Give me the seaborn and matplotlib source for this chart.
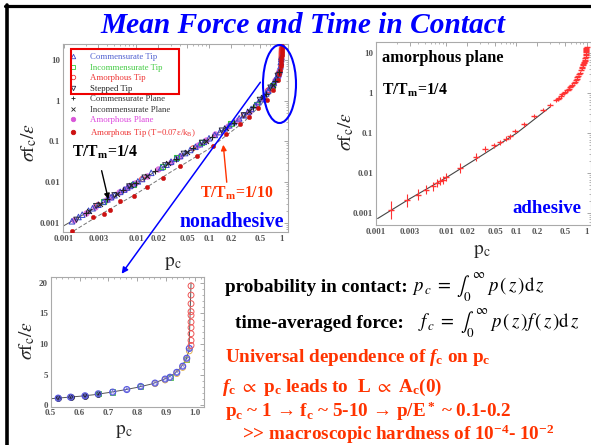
import matplotlib
matplotlib.use("Agg")
import numpy as np
import matplotlib.pyplot as plt
import seaborn as sns
from matplotlib.patches import Rectangle, Ellipse, FancyArrowPatch
from matplotlib.lines import Line2D
from matplotlib.ticker import LogLocator, NullFormatter, FixedLocator

# ---------------- data: log-log collapse, T/Tm = 1/4 ----------------
comm_tip_p = [0.0013, 0.0016, 0.0018, 0.0022, 0.0025, 0.003, 0.0035, 0.004, 0.0045, 0.005,
              0.006, 0.0068, 0.0075, 0.0082, 0.009, 0.0105, 0.012, 0.016, 0.022, 0.026,
              0.03, 0.035, 0.04, 0.047, 0.055, 0.065, 0.075, 0.085, 0.1, 0.12, 0.14, 0.165,
              0.19, 0.22, 0.26, 0.3, 0.34, 0.38, 0.43, 0.48, 0.52, 0.56, 0.61, 0.65, 0.7,
              0.74, 0.78, 0.82, 0.85, 0.88, 0.9, 0.92, 0.94, 0.96, 0.975, 0.985, 0.99]
comm_tip_f = [0.0011, 0.0014, 0.0016, 0.002, 0.0023, 0.0028, 0.0033, 0.0038, 0.0043, 0.0048,
              0.0058, 0.0066, 0.0074, 0.0081, 0.009, 0.0105, 0.012, 0.017, 0.023, 0.027,
              0.032, 0.038, 0.044, 0.052, 0.062, 0.074, 0.086, 0.098, 0.12, 0.145, 0.17, 0.21,
              0.25, 0.30, 0.37, 0.44, 0.53, 0.63, 0.77, 0.93, 1.1, 1.25, 1.5, 1.75, 2.1,
              2.4, 2.8, 3.3, 3.7, 4.2, 4.6, 5.1, 5.6, 7.0, 9.0, 10.5, 12.0]
incomm_tip_p = [0.0035, 0.009, 0.023, 0.036, 0.08, 0.2, 0.45, 0.75]
incomm_tip_f = [0.0033, 0.009, 0.025, 0.040, 0.093, 0.27, 0.83, 2.4]
amorph_tip_p = [0.003, 0.012, 0.06, 0.3, 0.65, 0.9, 0.97, 0.985, 0.99, 0.993, 0.995,
                0.996, 0.997, 0.998, 0.999, 0.9995, 1.0]
amorph_tip_f = [0.0028, 0.012, 0.068, 0.44, 1.8, 4.6, 7.5, 9.8, 10.8, 11.8, 12.8,
                13.8, 14.8, 15.8, 16.8, 18.0, 19.5]
stepped_tip_p = [0.0015, 0.0028, 0.005, 0.008, 0.013, 0.025, 0.045, 0.08, 0.15, 0.3, 0.5, 0.7, 0.88]
stepped_tip_f = [0.0012, 0.0026, 0.0048, 0.0079, 0.013, 0.026, 0.05, 0.093, 0.185, 0.44, 1.05, 2.1, 4.1]
comm_plane_p = [0.002, 0.004, 0.0065, 0.01, 0.018, 0.035, 0.06, 0.11, 0.22, 0.4, 0.6, 0.8, 0.92]
comm_plane_f = [0.0018, 0.0038, 0.0063, 0.0098, 0.019, 0.038, 0.068, 0.13, 0.29, 0.7, 1.45, 3.0, 5.0]
incomm_plane_p = [0.0022, 0.0032, 0.0055, 0.0085, 0.014, 0.027, 0.05, 0.09, 0.17, 0.35, 0.55, 0.75]
incomm_plane_f = [0.002, 0.0029, 0.0052, 0.0085, 0.014, 0.029, 0.056, 0.105, 0.22, 0.55, 1.25, 2.5]
amorph_plane_p = [0.0014, 0.002, 0.0027, 0.0038, 0.0045, 0.0058, 0.007, 0.008, 0.0095, 0.014,
                  0.02, 0.03, 0.04, 0.07, 0.09, 0.12, 0.18, 0.25, 0.35, 0.45, 0.55, 0.65,
                  0.75, 0.82, 0.88, 0.93]
amorph_plane_f = [0.0012, 0.0018, 0.0025, 0.0036, 0.0044, 0.0057, 0.0069, 0.0079, 0.0095, 0.014,
                  0.021, 0.032, 0.045, 0.082, 0.11, 0.15, 0.24, 0.34, 0.54, 0.83, 1.2, 1.8,
                  2.5, 3.2, 4.1, 5.3]

# T/Tm = 1/10 (amorphous tip, T = 0.07 eps/kB)
cold_tip_p = [0.0013, 0.0025, 0.0036, 0.0044, 0.006, 0.0092, 0.014, 0.0236, 0.04, 0.068,
              0.115, 0.17, 0.27, 0.35, 0.47, 0.62, 0.76, 0.88, 0.93, 0.95, 0.965, 0.975,
              0.983, 0.99, 0.994, 0.997, 0.999, 1.0]
cold_tip_f = [0.00063, 0.0014, 0.0017, 0.0021, 0.0035, 0.0047, 0.0075, 0.013, 0.025, 0.044,
              0.077, 0.15, 0.27, 0.41, 0.66, 1.06, 1.85, 3.25, 4.5, 5.7, 7.0, 8.0,
              9.5, 11.0, 13.0, 15.5, 18.5, 22.0]

fit_warm_p = [0.001, 0.003, 0.01, 0.03, 0.1, 0.3, 0.5, 0.7, 0.85, 0.93, 0.97, 0.99]
fit_warm_f = [0.00085, 0.0026, 0.0095, 0.031, 0.115, 0.42, 1.05, 2.1, 3.5, 5.1, 7.0, 9.8]
fit_cold_p = [0.001, 0.003, 0.01, 0.03, 0.1, 0.3, 0.5, 0.7, 0.85, 0.93, 0.97, 0.99]
fit_cold_f = [0.00045, 0.0015, 0.0052, 0.018, 0.066, 0.3, 0.75, 1.5, 2.8, 4.6, 7.0, 10.0]

# ---------------- data: adhesive amorphous plane ----------------
adh_p = [0.00164, 0.00276, 0.0039, 0.0052, 0.0064, 0.0074, 0.0082, 0.009, 0.0100, 0.0157,
         0.0264, 0.036, 0.048, 0.059, 0.071, 0.082, 0.096, 0.13, 0.18, 0.24,
         0.30, 0.37, 0.39, 0.41, 0.43, 0.45, 0.47, 0.50, 0.52, 0.54,
         0.56, 0.58, 0.61, 0.63, 0.66, 0.68, 0.70, 0.72, 0.74, 0.76,
         0.78, 0.80, 0.83, 0.85, 0.87, 0.885, 0.90, 0.915, 0.93, 0.94,
         0.95, 0.96, 0.97, 0.975, 0.98, 0.985, 0.99, 0.993, 0.995, 0.997, 1.0]
adh_f = [0.00119, 0.0021, 0.0029, 0.0039, 0.0047, 0.0057, 0.0064, 0.0070, 0.0081, 0.0138,
         0.0255, 0.040, 0.050, 0.060, 0.074, 0.084, 0.114, 0.168, 0.27, 0.38,
         0.50, 0.67, 0.72, 0.78, 0.86, 0.94, 1.0, 1.1, 1.18, 1.24,
         1.31, 1.42, 1.55, 1.65, 1.8, 1.95, 2.1, 2.3, 2.5, 2.7,
         3.0, 3.3, 3.8, 4.2, 4.6, 5.0, 5.4, 5.8, 6.1, 6.5,
         7.0, 7.6, 8.2, 8.9, 9.8, 10.6, 11.5, 12.2, 13.0, 13.7, 14.4]
adh_err_dex = [0.22, 0.17, 0.14, 0.12, 0.12, 0.10, 0.10, 0.10, 0.10, 0.12,
               0.10, 0.07, 0.06, 0.06, 0.06, 0.06, 0.06, 0.06, 0.05, 0.05,
               0.05, 0.05, 0.04, 0.04, 0.04, 0.04, 0.04, 0.04, 0.04, 0.04,
               0.03, 0.03, 0.03, 0.03, 0.03, 0.03, 0.03, 0.03, 0.03, 0.03,
               0.03, 0.03, 0.03, 0.03, 0.03, 0.03, 0.03, 0.03, 0.03, 0.03,
               0.03, 0.03, 0.03, 0.03, 0.03, 0.03, 0.03, 0.03, 0.03, 0.03, 0.03]
adh_fit_p = [0.00105, 0.003, 0.01, 0.03, 0.1, 0.3]
adh_fit_f = [0.00074, 0.0023, 0.0078, 0.026, 0.10, 0.45]

# ---------------- data: linear close-up near full contact ----------------
lin_p = [0.526, 0.569, 0.619, 0.665, 0.715, 0.764, 0.812, 0.862, 0.897, 0.914, 0.9375, 0.958, 0.972, 0.981]
lin_f = [1.2, 1.36, 1.58, 1.9, 2.18, 2.6, 3.1, 3.65, 4.3, 4.6, 5.4, 6.4, 7.7, 9.3]
lin_dark_p = [0.526, 0.569, 0.619, 0.665]
lin_dark_f = [1.2, 1.36, 1.58, 1.9]
lin_green_p = [0.665, 0.715, 0.812, 0.914, 0.972]
lin_green_f = [1.95, 2.2, 3.1, 4.5, 7.5]
lin_orange_p = [0.862, 0.897, 0.9375, 0.958, 0.972, 0.981]
lin_orange_f = [3.55, 4.15, 5.2, 6.2, 7.5, 8.9]
lin_red_p = [0.987, 0.987, 0.987, 0.987, 0.987, 0.987, 0.987, 0.987, 0.987, 0.987]
lin_red_f = [9.8, 10.6, 11.7, 12.7, 13.6, 14.7, 15.3, 16.6, 18.0, 19.5]
lin_fit_p = [0.5, 0.55, 0.6, 0.65, 0.7, 0.75, 0.8, 0.85, 0.9, 0.93, 0.95, 0.97, 0.98, 0.987]
lin_fit_f = [1.1, 1.3, 1.5, 1.75, 2.1, 2.5, 2.95, 3.5, 4.4, 5.2, 6.1, 7.5, 9.0, 20.0]

log_ticks = [0.001, 0.003, 0.01, 0.02, 0.05, 0.1, 0.2, 0.5, 1]
log_tick_labels = ["0.001", "0.003", "0.01", "0.02", "0.05", "0.1", "0.2", "0.5", "1"]
ylog_ticks = [0.001, 0.01, 0.1, 1, 10]
ylog_tick_labels = ["0.001", "0.01", "0.1", "1", "10"]
lin_xticks = [0.5, 0.6, 0.7, 0.8, 0.9, 1.0]
lin_xtick_labels = ["0.5", "0.6", "0.7", "0.8", "0.9", "1.0"]
lin_yticks = [0, 5, 10, 15, 20]
lin_ytick_labels = ["0", "5", "10", "15", "20"]

# ---------------- style ----------------
sns.set_style("white")
plt.rcParams["font.family"] = ["Liberation Serif", "DejaVu Serif"]
plt.rcParams["mathtext.fontset"] = "custom"
plt.rcParams["mathtext.rm"] = "Liberation Serif:bold"
plt.rcParams["mathtext.it"] = "Liberation Serif:italic:bold"
plt.rcParams["mathtext.bf"] = "Liberation Serif:bold"
plt.rcParams["mathtext.fallback"] = "stix"

BLUE = "#0000ff"
RED = "#ff3300"
W, H = 591, 445
fig = plt.figure(figsize=(W / 100, H / 100), dpi=100)
fig.patch.set_facecolor("white")


def box(l, t, r, b):
    return [l / W, 1 - b / H, (r - l) / W, (b - t) / H]


def P(x, y):
    return (x / W, 1 - y / H)


def frame(ax):
    for s in ax.spines.values():
        s.set_color("#aaaaaa")
        s.set_linewidth(0.8)
    ax.tick_params(which="both", direction="in", top=True, right=True,
                   colors="#999999", labelcolor="#555555", labelsize=6.5, pad=2)
    ax.tick_params(which="major", length=3, width=0.6)
    ax.tick_params(which="minor", length=1.5, width=0.5)
    for lbl in ax.get_xticklabels() + ax.get_yticklabels():
        lbl.set_fontweight("bold")


def log_axes(ax, xlim, ylim):
    ax.set_xscale("log")
    ax.set_yscale("log")
    ax.set_xlim(*xlim)
    ax.set_ylim(*ylim)
    ax.xaxis.set_major_locator(FixedLocator(log_ticks))
    ax.set_xticklabels(log_tick_labels)
    ax.yaxis.set_major_locator(FixedLocator(ylog_ticks))
    ax.set_yticklabels(ylog_tick_labels)
    ax.xaxis.set_minor_locator(LogLocator(base=10, subs=np.arange(2, 10)))
    ax.yaxis.set_minor_locator(LogLocator(base=10, subs=np.arange(2, 10)))
    ax.xaxis.set_minor_formatter(NullFormatter())
    ax.yaxis.set_minor_formatter(NullFormatter())


def open_pts(ax, x, y, marker, color, s, lw=0.6, z=3, alpha=1.0):
    sns.scatterplot(x=x, y=y, ax=ax, marker=marker, s=s, facecolor="none",
                    edgecolor=color, linewidth=lw, zorder=z, alpha=alpha, legend=False)


def solid_pts(ax, x, y, marker, color, s, lw=0.6, z=3, alpha=1.0):
    sns.scatterplot(x=x, y=y, ax=ax, marker=marker, s=s, color=color,
                    edgecolor=color, linewidth=lw, zorder=z, alpha=alpha, legend=False)


# ---------------- top-left: nonadhesive collapse ----------------
ax1 = fig.add_axes(box(63, 44, 288, 232))
log_axes(ax1, (0.00098, 1.22), (0.0006, 24.7))
sns.lineplot(x=fit_warm_p, y=fit_warm_f, ax=ax1, color="#555555", lw=0.7, sort=False, zorder=1)
sns.lineplot(x=fit_cold_p, y=fit_cold_f, ax=ax1, color="#777777", lw=0.7, sort=False,
             zorder=1, linestyle=(0, (4, 2)))

C_COMM, C_INC, C_AMT, C_STEP = "#3a45c8", "#33cc33", "#ee3333", "#2a2a44"
C_APL, C_COLD = "#d855d8", "#cc1111"
solid_pts(ax1, amorph_plane_p, amorph_plane_f, "o", C_APL, 16, z=3, alpha=0.75)
open_pts(ax1, amorph_tip_p, amorph_tip_f, "o", C_AMT, 13, z=3)
open_pts(ax1, incomm_tip_p, incomm_tip_f, "s", C_INC, 13, lw=0.8, z=3)
open_pts(ax1, comm_tip_p, comm_tip_f, "^", C_COMM, 16, lw=0.7, z=4)
open_pts(ax1, stepped_tip_p, stepped_tip_f, "v", C_STEP, 14, lw=0.7, z=4)
sns.scatterplot(x=comm_plane_p, y=comm_plane_f, ax=ax1, marker="+", s=16, color="#222222",
                linewidth=0.8, zorder=5, legend=False)
sns.scatterplot(x=incomm_plane_p, y=incomm_plane_f, ax=ax1, marker="x", s=12, color="#222222",
                linewidth=0.8, zorder=5, legend=False)
solid_pts(ax1, cold_tip_p, cold_tip_f, "o", C_COLD, 10, lw=0.3, z=4)
log_axes(ax1, (0.00098, 1.22), (0.0006, 24.7))
frame(ax1)

legend_items = [
    ("Commensurate Tip", "^", C_COMM, False, "#5060d0"),
    ("Incommensurate Tip", "s", C_INC, False, "#44cc44"),
    ("Amorphous Tip", "o", C_AMT, False, "#ee3333"),
    ("Stepped Tip", "v", C_STEP, False, "#222222"),
    ("Commensurate Plane", "+", "#222222", True, "#333333"),
    ("Incommensurate Plane", "x", "#222222", True, "#333333"),
    ("Amorphous Plane", "o", C_APL, True, "#dd44dd"),
    (r"Amorphous Tip (T=0.07ε/k$_\mathregular{B}$)", "o", C_COLD, True, "#ee3333"),
]
handles = []
for label, mk, col, filled, _ in legend_items:
    handles.append(Line2D([], [], ls="none", marker=mk, ms=3.2, mew=0.6, mec=col,
                          mfc=col if filled else "none", label=label))
leg = ax1.legend(handles=handles, loc="upper left", bbox_to_anchor=(0.029, 0.951),
                 frameon=False, fontsize=6.3, handlelength=0.8, handletextpad=1.5,
                 labelspacing=0.27, borderpad=0, borderaxespad=0)
for txt, item in zip(leg.get_texts(), legend_items):
    txt.set_color(item[4])

ax1.set_xlabel("")
ax1.set_ylabel("")

# ---------------- top-right: adhesive amorphous plane ----------------
ax2 = fig.add_axes(box(376, 42, 590.5, 225))
log_axes(ax2, (0.000995, 1.14), (0.00051, 19.2))
sns.lineplot(x=adh_fit_p, y=adh_fit_f, ax=ax2, color="#444444", lw=0.8, sort=False, zorder=1)
adh_p_arr = np.array(adh_p)
adh_f_arr = np.array(adh_f)
adh_e = np.array(adh_err_dex)
ax2.errorbar(adh_p_arr, adh_f_arr,
             yerr=[adh_f_arr - adh_f_arr * 10 ** (-adh_e), adh_f_arr * 10 ** adh_e - adh_f_arr],
             fmt="none", ecolor="#ff3333", elinewidth=0.8, zorder=2)
sns.scatterplot(x=adh_p, y=adh_f, ax=ax2, marker="_", s=22, color="#ff3333",
                linewidth=1.0, zorder=3, legend=False)
log_axes(ax2, (0.000995, 1.14), (0.00051, 19.2))
frame(ax2)
ax2.set_xlabel("")
ax2.set_ylabel("")

# ---------------- bottom-left: linear close-up ----------------
ax3 = fig.add_axes(box(50.7, 276.7, 204, 406.7))
sns.lineplot(x=lin_fit_p, y=lin_fit_f, ax=ax3, color="#555555", lw=0.7, sort=False, zorder=1)
solid_pts(ax3, lin_dark_p, lin_dark_f, "o", "#222233", 18, z=3)
open_pts(ax3, lin_green_p, lin_green_f, "s", "#44bb44", 14, z=3)
open_pts(ax3, lin_orange_p, lin_orange_f, "o", "#ddaa44", 18, z=3)
open_pts(ax3, lin_p, lin_f, "o", "#5a5ae0", 18, lw=0.9, z=4)
open_pts(ax3, lin_p, lin_f, "^", "#7070dd", 8, lw=0.5, z=4)
open_pts(ax3, lin_red_p, lin_red_f, "o", "#ee5555", 18, lw=0.7, z=4)
ax3.set_xlim(0.5, 1.032)
ax3.set_ylim(-0.2, 21)
ax3.xaxis.set_major_locator(FixedLocator(lin_xticks))
ax3.set_xticklabels(lin_xtick_labels)
ax3.yaxis.set_major_locator(FixedLocator(lin_yticks))
ax3.set_yticklabels(lin_ytick_labels)
ax3.xaxis.set_minor_locator(FixedLocator(np.arange(0.5, 1.03, 0.02)))
ax3.yaxis.set_minor_locator(FixedLocator(np.arange(0, 21, 1)))
frame(ax3)
ax3.set_xlabel("")
ax3.set_ylabel("")

# ---------------- axis labels ----------------
ylab = r"$\sigma\mathrm{f}_\mathrm{c}/\varepsilon$"
xlab = r"$\mathrm{p}_\mathrm{c}$"
for (x, y) in [(29, 142), (346, 131), (27, 340)]:
    fig.text(*P(x, y), ylab, rotation=90, ha="center", va="center", fontsize=14,
             math_fontfamily="stix")
for (x, y) in [(173, 263), (482, 251), (124, 431)]:
    fig.text(*P(x, y), xlab, ha="center", va="center", fontsize=14, math_fontfamily="stix")

# ---------------- title and annotations ----------------
fig.text(*P(303, 33), "Mean Force and Time in Contact", ha="center", va="baseline",
         fontsize=21.2, fontweight="bold", fontstyle="italic", color=BLUE)

fig.text(*P(72, 157), r"T/T$_\mathrm{m}$=1/4", ha="left", va="baseline", fontsize=11.3,
         fontweight="bold", color="black")
fig.text(*P(200, 198), r"T/T$_\mathrm{m}$=1/10", ha="left", va="baseline", fontsize=11.3,
         fontweight="bold", color=RED)
fig.text(*P(180, 227), "nonadhesive", ha="left", va="baseline", fontsize=14.2,
         fontweight="bold", color=BLUE)
fig.text(*P(382, 62), "amorphous plane", ha="left", va="baseline", fontsize=11.8,
         fontweight="bold", color="black")
fig.text(*P(382, 95), r"T/T$_\mathrm{m}$=1/4", ha="left", va="baseline", fontsize=11.3,
         fontweight="bold", color="black")
fig.text(*P(512, 213), "adhesive", ha="left", va="baseline", fontsize=13.5,
         fontweight="bold", color=BLUE)

fig.add_artist(FancyArrowPatch(P(101, 168), P(109, 202), transform=fig.transFigure,
                               arrowstyle="-|>", mutation_scale=8, color="black", lw=1.0))
fig.add_artist(FancyArrowPatch(P(227, 185), P(223, 142), transform=fig.transFigure,
                               arrowstyle="-|>", mutation_scale=8, color=RED, lw=1.0))
fig.add_artist(Rectangle(P(70.7, 94), 108.3 / W, 45 / H, transform=fig.transFigure,
                         fill=False, edgecolor="#ee0000", lw=1.5))
fig.add_artist(Ellipse(P(279.5, 84), 33 / W, 78 / H, transform=fig.transFigure,
                       fill=False, edgecolor=BLUE, lw=1.5))
fig.add_artist(FancyArrowPatch(P(262, 80), P(120, 276), transform=fig.transFigure,
                               arrowstyle="-|>", mutation_scale=9, color=BLUE, lw=1.1))

# ---------------- definitions and remarks ----------------
fig.text(*P(225, 292), "probability in contact:", ha="left", va="baseline", fontsize=13.8,
         fontweight="bold", color="black")
fig.text(*P(412, 292),
         r"$p_{\,c}\;=\;\int_0^{\,\infty}\;p\,\left(\,z\,\right)\mathrm{d}\,z$",
         ha="left", va="baseline", fontsize=13.5, math_fontfamily="stix", color="black")
fig.text(*P(235, 328), "time-averaged force:", ha="left", va="baseline", fontsize=13.8,
         fontweight="bold", color="black")
fig.text(*P(418, 328),
         r"$f_{\,c}\;=\;\int_0^{\,\infty}\;p\,\left(\,z\,\right)f\,\left(\,z\,\right)\mathrm{d}\,z$",
         ha="left", va="baseline", fontsize=13.5, math_fontfamily="stix", color="black")
red_lines = [
    (225, 362, r"Universal dependence of $f_\mathrm{c}$ on p$_\mathrm{c}$"),
    (222, 392, r"$f_\mathrm{c}$ $\propto$ p$_\mathrm{c}$ leads to  L $\propto$ A$_\mathrm{c}$(0)"),
    (225, 417, r"p$_\mathrm{c}$ ~ 1 → f$_\mathrm{c}$ ~ 5-10 → p/E$^*$ ~ 0.1-0.2"),
    (242, 440, r">> macroscopic hardness of 10$^{-4}$- 10$^{-2}$"),
]
for x, y, s in red_lines:
    fig.text(*P(x, y), s, ha="left", va="baseline", fontsize=13.8, fontweight="bold", color=RED)

# slide frame
fig.add_artist(Line2D([5 / W, 1], [1 - 5.5 / H, 1 - 5.5 / H], transform=fig.transFigure,
                      color="black", lw=2.3))
fig.add_artist(Line2D([7 / W, 7 / W], [0, 1 - 4.5 / H], transform=fig.transFigure,
                      color="black", lw=2.6))

fig.savefig("out.png", dpi=100)
